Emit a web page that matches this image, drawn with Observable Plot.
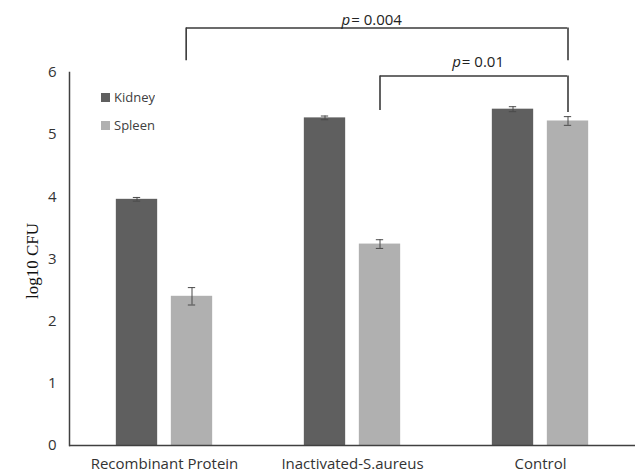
<!DOCTYPE html>
<html>
<head>
<meta charset="utf-8">
<script src="https://cdn.jsdelivr.net/npm/d3@7"></script>
<script src="https://cdn.jsdelivr.net/npm/@observablehq/plot@0.6"></script>
<style>
  html, body { margin: 0; padding: 0; background: #fff; }
  #wrap { position: relative; width: 637px; height: 474px; }
  #legend { position: absolute; left: 101px; top: 83px; }
  .lg-swatch { height: 28px; padding-bottom: 0 !important; color: #404040; }
  .lg-swatch > svg { margin-right: 4px !important; }
</style>
</head>
<body>
<div id="wrap"><div id="chart"></div><div id="legend"></div></div>
<script>
// ---- data ----
const groups = ["Recombinant Protein", "Inactivated-S.aureus", "Control"];
const series = ["Kidney", "Spleen"];
const kidney = [3.96, 5.27, 5.41];
const kidneyErr = [0.03, 0.03, 0.04];
const spleen = [2.40, 3.24, 5.22];
const spleenErr = [0.14, 0.07, 0.07];
const yTicks = [0, 1, 2, 3, 4, 5, 6];
const pLabels = ["= 0.004", "= 0.01"];
const bracketFrom = ["Recombinant Protein", "Inactivated-S.aureus"];
const bracketTo = ["Control", "Control"];
const bracketTop = [6.716, 5.943];
const bracketLegFrom = [6.19, 5.389];
const bracketLegTo = [6.19, 5.356];

// ---- tables built from the arrays ----
const rows = groups.flatMap((g, i) => [
  {group: g, series: "Kidney", value: kidney[i], err: kidneyErr[i]},
  {group: g, series: "Spleen", value: spleen[i], err: spleenErr[i]}
]);
const brackets = pLabels.map((label, i) => ({
  label, from: bracketFrom[i], to: bracketTo[i], top: bracketTop[i],
  legFrom: bracketLegFrom[i], legTo: bracketLegTo[i], p: "p"
}));

// ---- styling ----
const colors = ["#5f5f5f", "#b0b0b0"];
const W = 637, H = 474, ML = 69, MR = 2, MT = 72, MB = 29;
const band = (W - ML - MR) / groups.length;
const barW = 42, capW = 8;
const offset = {Kidney: -27.5, Spleen: 27.5};
const barInset = (band - barW) / 2;
const capInset = (band - capW) / 2;
const axisColor = "#404040";
const sans = "'Open Sans', sans-serif";

const seriesMarks = series.flatMap(s => {
  const d = rows.filter(r => r.series === s);
  return [
    Plot.barY(d, {x: "group", y: "value", fill: "series", insetLeft: barInset, insetRight: barInset, dx: offset[s]}),
    Plot.ruleX(d, {x: "group", y1: r => r.value - r.err, y2: r => r.value + r.err, stroke: "#4a4a4a", strokeWidth: 1, dx: offset[s]}),
    Plot.tickY(d, {x: "group", y: r => r.value + r.err, stroke: "#4a4a4a", strokeWidth: 1, insetLeft: capInset, insetRight: capInset, dx: offset[s]}),
    Plot.tickY(d, {x: "group", y: r => r.value - r.err, stroke: "#4a4a4a", strokeWidth: 1, insetLeft: capInset, insetRight: capInset, dx: offset[s]})
  ];
});

const bracketStyle = [
  {leftDx: 116 - band / 2, rightDx: offset.Spleen, textX: "from", textDx: 350 - (ML + band * 1.5) + band, textDy: -3},
  {leftDx: offset.Spleen, rightDx: offset.Spleen, textX: "to", textDx: 462 - (ML + band * 2.5), textDy: -9}
];
const bracketMarks = brackets.flatMap((b, i) => {
  const st = bracketStyle[i];
  const leftOff = band / 2 + st.leftDx;
  const rightOff = band / 2 + st.rightDx;
  return [
    Plot.ruleY([b], {y: "top", x1: "from", x2: "to", insetLeft: leftOff, insetRight: band - rightOff, stroke: "#3a3a3a", strokeWidth: 1.6}),
    Plot.ruleX([b], {x: "from", y1: "legFrom", y2: "top", dx: st.leftDx, stroke: "#3a3a3a", strokeWidth: 1.6}),
    Plot.ruleX([b], {x: "to", y1: "legTo", y2: "top", dx: st.rightDx, stroke: "#3a3a3a", strokeWidth: 1.6}),
    Plot.text([b], {x: st.textX, y: "top", text: "p", textAnchor: "end", lineAnchor: "bottom", dx: st.textDx - 1, dy: st.textDy, fontStyle: "italic", fontSize: 15, fontFamily: sans, fill: "#222"}),
    Plot.text([b], {x: st.textX, y: "top", text: "label", textAnchor: "start", lineAnchor: "bottom", dx: st.textDx, dy: st.textDy, fontSize: 15, fontFamily: sans, fill: "#222"})
  ];
});

const chart = Plot.plot({
  width: W, height: H,
  marginLeft: ML, marginRight: MR, marginTop: MT, marginBottom: MB,
  style: {background: "#fff", fontFamily: sans, color: "#333"},
  x: {domain: groups, padding: 0, axis: null},
  y: {domain: [0, 6], axis: null},
  color: {domain: series, range: colors},
  marks: [
    ...seriesMarks,
    Plot.ruleY([0], {stroke: axisColor, strokeWidth: 1.5}),
    Plot.frame({anchor: "left", stroke: axisColor, strokeWidth: 1.5}),
    Plot.axisY({ticks: yTicks, tickSize: 0, tickPadding: 13, label: null, fontSize: 15, tickFormat: d3.format("d")}),
    Plot.axisX({tickSize: 0, tickPadding: 13, label: null, fontSize: 15}),
    Plot.text(["log10 CFU"], {frameAnchor: "left", textAnchor: "middle", rotate: -90, dx: -37, dy: 2, fontFamily: "'Liberation Serif', serif", fontSize: 17, fill: "#111"}),
    ...bracketMarks
  ]
});
document.getElementById("chart").appendChild(chart);

const legend = chart.legend("color", {columns: 1, swatchSize: 9, className: "lg", style: {fontFamily: sans, fontSize: "13px"}});
document.getElementById("legend").appendChild(legend);
</script>
</body>
</html>
